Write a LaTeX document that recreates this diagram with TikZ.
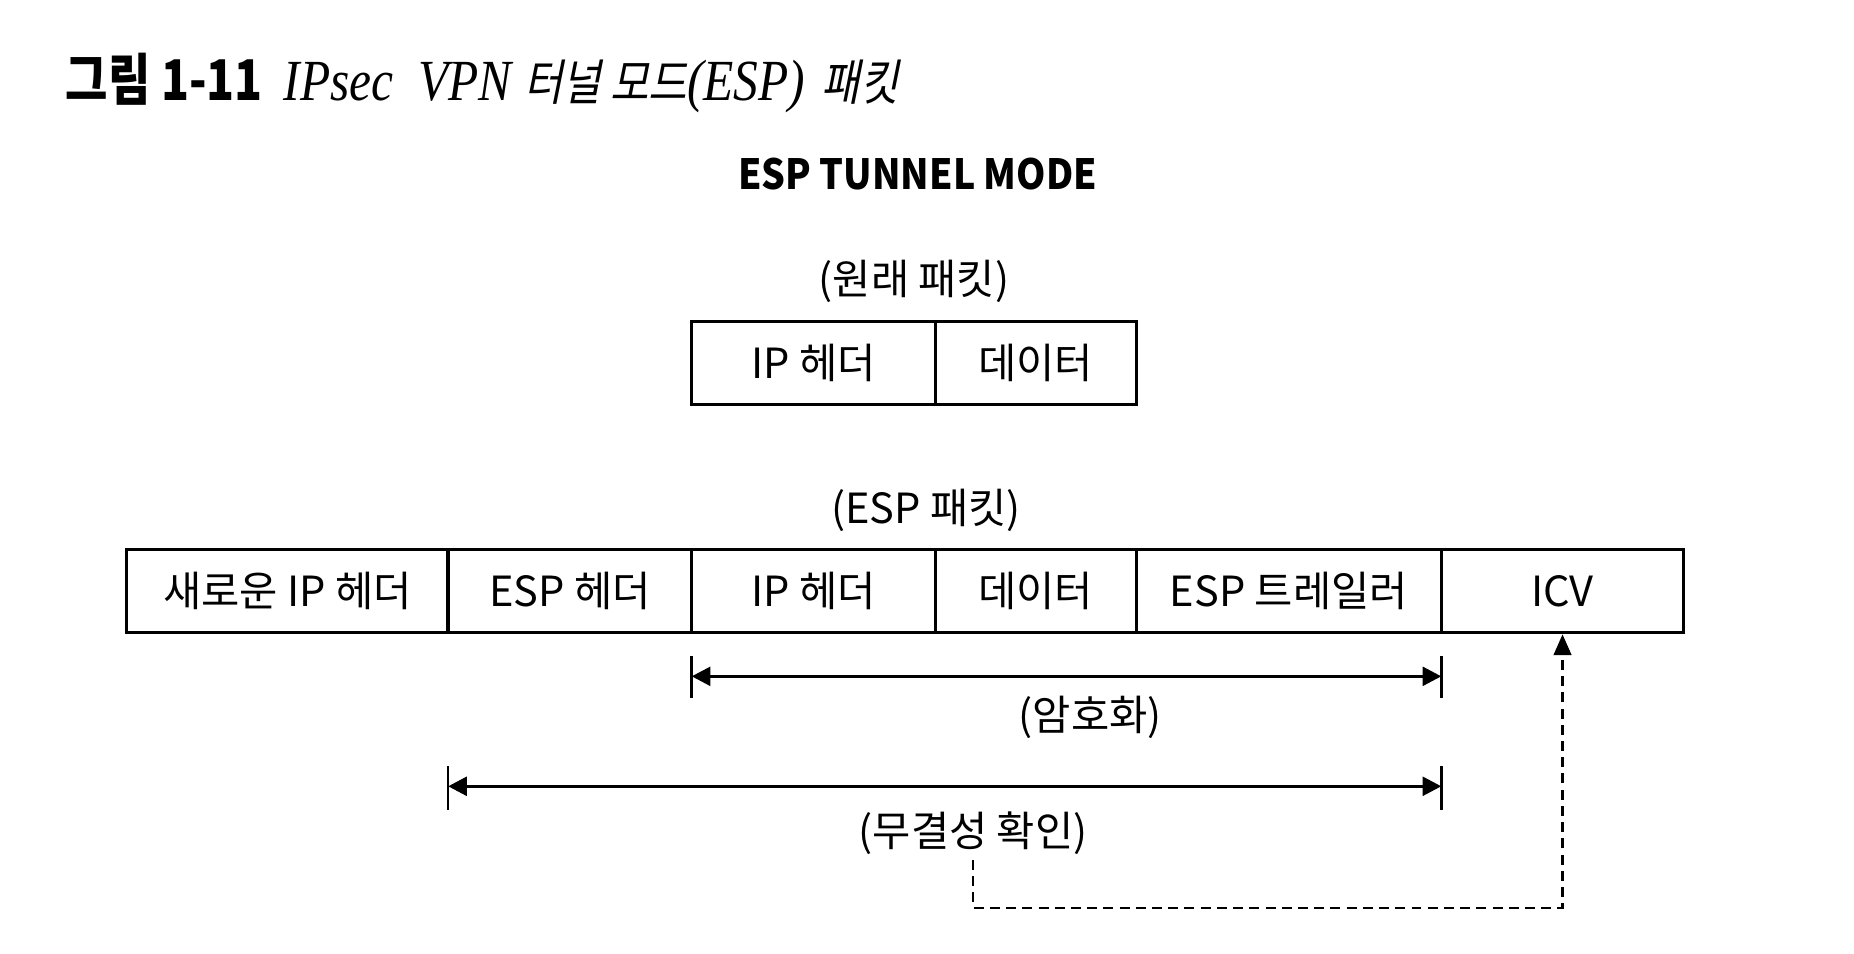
\documentclass[tikz,border=0pt]{standalone}
\usepackage{fontspec}
\setmainfont{Noto Sans CJK KR}
\newfontfamily\krtitle[FakeStretch=0.82]{Noto Sans CJK KR}
\newfontfamily\krslant[FakeSlant=0.2,FakeStretch=0.85]{Noto Sans CJK KR}
\newfontfamily\serifit[FakeStretch=0.85]{Liberation Serif}
\newfontfamily\krhead[FakeStretch=0.9]{Noto Sans CJK KR}
\usetikzlibrary{arrows.meta,calc}
\begin{document}
\begin{tikzpicture}[x=0.01cm,y=-0.01cm,
  cell/.style={draw, line width=0.8pt, minimum height=0.7cm, inner sep=0pt,
               font=\fontsize{10}{12}\selectfont},
  lbl/.style={font=\fontsize{10}{12}\selectfont, inner sep=1pt},
  span/.style={line width=0.8pt,
               {Triangle[length=4.5pt,width=4.5pt]}-{Triangle[length=4.5pt,width=4.5pt]}},
  tick/.style={line width=0.6pt},
  verify/.style={line width=0.65pt, dash pattern=on 2.4pt off 1.5pt,
                 -{Triangle[length=5pt,width=4.2pt]}}]
\useasboundingbox (0,0) rectangle (1568,806);

% title
\node[anchor=west, inner sep=0pt] (title) at (55,70)
  {{\krtitle\bfseries\fontsize{13.5}{16}\selectfont 그림 1-11}\hspace{5pt}%
   {\serifit\itshape\fontsize{14}{16}\selectfont IPsec\hspace{3pt} VPN}\hspace{3pt}%
   {\krslant\fontsize{11.8}{14}\selectfont 터널 모드}%
   {\serifit\itshape\fontsize{14}{16}\selectfont (ESP)}\hspace{4pt}%
   {\krslant\fontsize{11.8}{14}\selectfont 패킷}};

\node[font=\krhead\bfseries\fontsize{10}{12}\selectfont] (mode) at (776,147) {ESP TUNNEL MODE};

% original packet
\node[lbl] (origlbl) at (773,238) {(원래 패킷)};
\node[cell, minimum width=2.06cm] (oip) at (688,307) {IP 헤더};
\node[cell, minimum width=1.70cm] (odata) at (876,307) {데이터};

% ESP packet
\node[lbl] (esplbl) at (783,432) {(ESP 패킷)};
\node[cell, minimum width=2.72cm] (newip) at (243,500) {새로운 IP 헤더};
\node[cell, minimum width=2.06cm] (esph) at (482,500) {ESP 헤더};
\node[cell, minimum width=2.06cm] (ip) at (688,500) {IP 헤더};
\node[cell, minimum width=1.70cm] (data) at (876,500) {데이터};
\node[cell, minimum width=2.58cm] (trailer) at (1090,500) {ESP 트레일러};
\node[cell, minimum width=2.05cm] (icv) at (1321.5,500) {ICV};

% encryption span
\coordinate (encL) at (585,572);
\coordinate (encR) at (1219,572);
\draw[tick] (585,555) -- (585,590);
\draw[tick] (1219,555) -- (1219,590);
\draw[span] (encL) -- (encR);
\node[lbl] (enclbl) at (922,607) {(암호화)};

% integrity span
\coordinate (intL) at (379,665);
\coordinate (intR) at (1219,665);
\draw[tick] (379,648) -- (379,685);
\draw[tick] (1219,648) -- (1219,685);
\draw[span] (intL) -- (intR);
\node[lbl] (integ) at (823,705) {(무결성 확인)};

% ICV dashed arrow
\coordinate (dcorner) at (1321.5,768);
\draw[verify] (integ.south) |- (dcorner) -- (icv.south);
\end{tikzpicture}
\end{document}
